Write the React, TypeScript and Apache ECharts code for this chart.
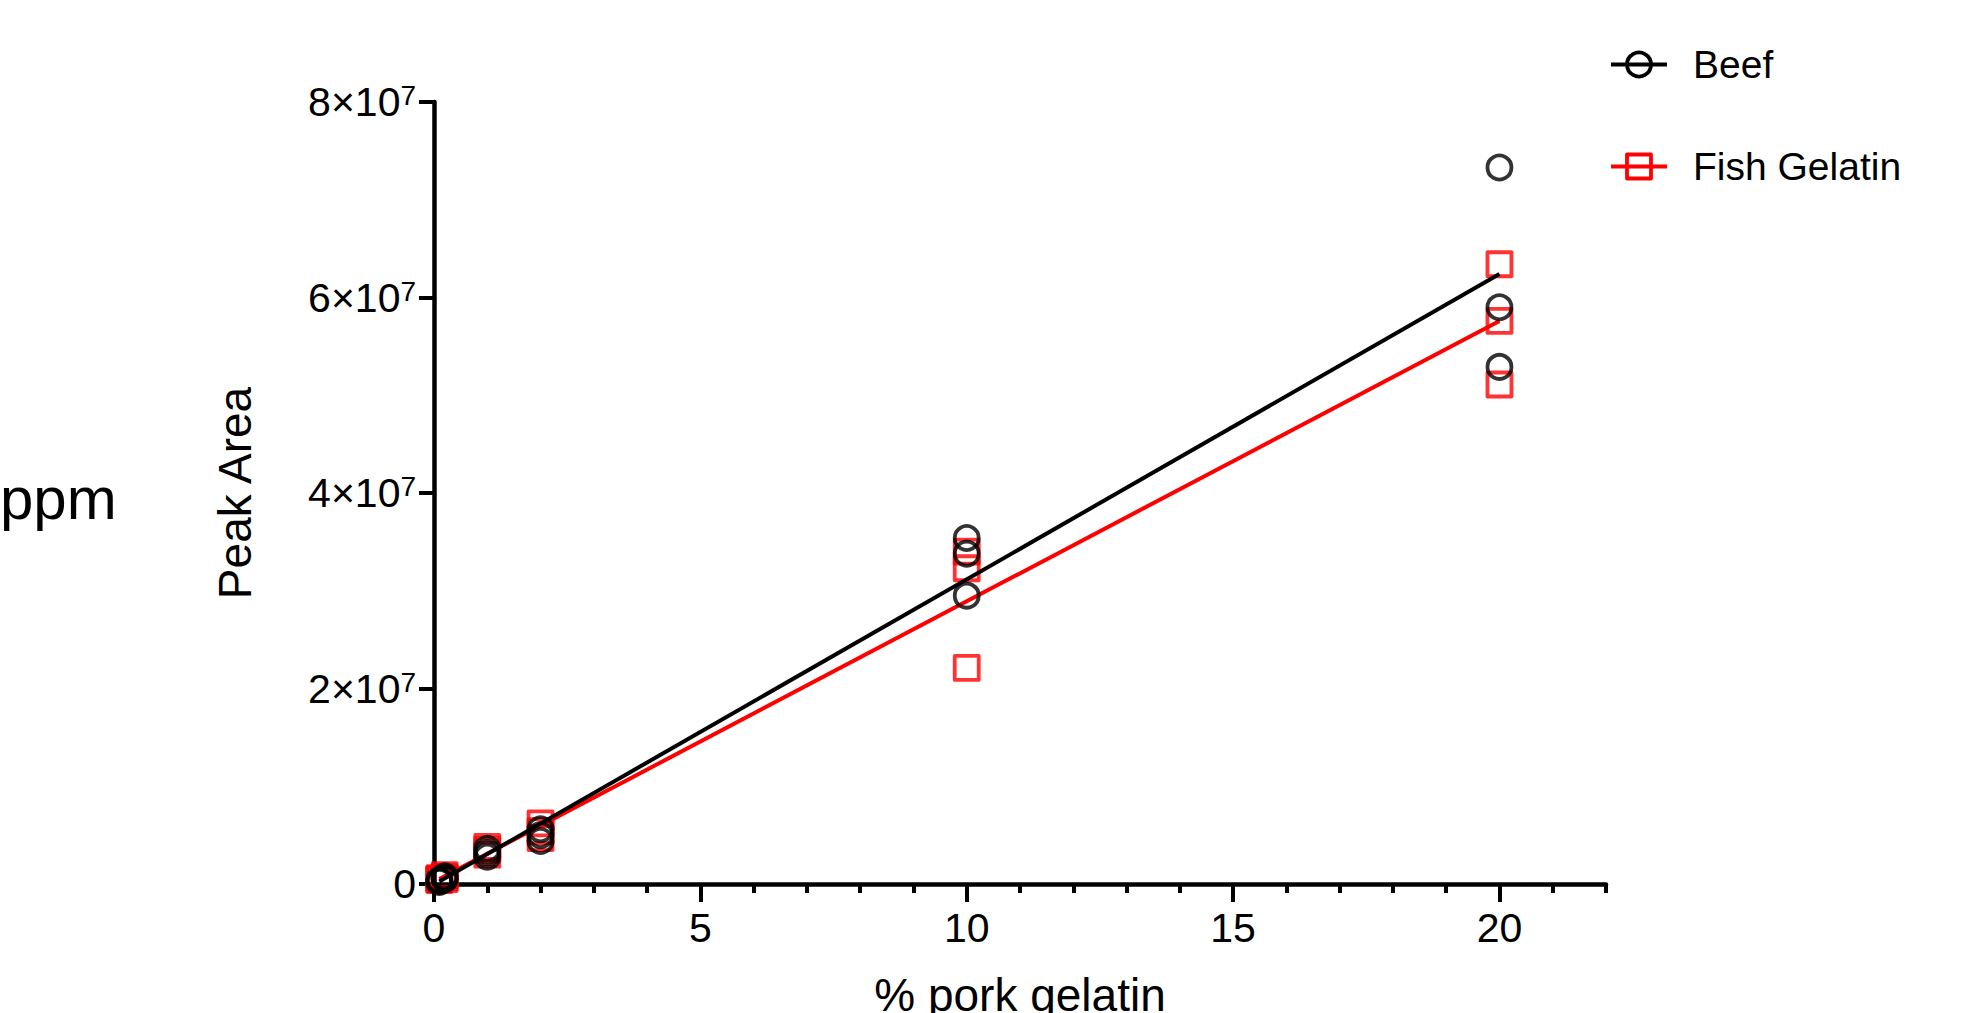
import React, { useEffect, useRef } from "react";
import * as echarts from "echarts";

// ---- data ----
const seriesNames = ["Beef", "Fish Gelatin"];
const doseX = [0.1, 0.1, 0.1, 0.2, 0.2, 0.2, 1, 1, 1, 2, 2, 2, 10, 10, 10, 20, 20, 20];
const beefY = [2e5, 3e5, 4e5, 5e5, 6e5, 8e5, 2.8e6, 3.2e6, 3.6e6, 4.4e6, 5.0e6, 5.6e6, 3.54e7, 3.38e7, 2.95e7, 7.33e7, 5.9e7, 5.29e7];
const fishY = [4e5, 5e5, 6e5, 5e5, 7e5, 9e5, 3.0e6, 3.5e6, 3.8e6, 4.7e6, 5.4e6, 6.2e6, 3.4e7, 3.23e7, 2.21e7, 6.34e7, 5.76e7, 5.11e7];
const fitX = [0.1, 20];
const beefFitY = [2.5e5, 6.24e7];
const fishFitY = [5.2e5, 5.76e7];
const xMajorTicks = [0, 5, 10, 15, 20];
const yTicks = [0, 2e7, 4e7, 6e7, 8e7];
const yTickMantissa = ["0", "2", "4", "6", "8"];
const yTickExponent = "7";

const FONT = "Liberation Sans";
const BLACK = "#000000";
const RED = "#ff0000";

function pairs(xs: number[], ys: number[]) {
  return xs.map((x, i) => [x, ys[i]]);
}

export default function App() {
  const ref = useRef<HTMLDivElement>(null);
  useEffect(() => {
    if (!ref.current) return;
    const chart = echarts.init(ref.current, null, { renderer: "svg" });
    const hollow = (c: string) => ({ color: "rgba(0,0,0,0)", borderColor: c, borderWidth: 3.8, borderJoin: "round" });
    chart.setOption({
      animation: false,
      backgroundColor: "#ffffff",
      grid: { left: 434, right: 358, top: 102, bottom: 129, containLabel: false, outerBoundsMode: "none" },
      legend: {
        orient: "vertical",
        left: 1609,
        top: 45,
        padding: 0,
        itemWidth: 56,
        itemHeight: 30,
        itemGap: 63,
        selectedMode: false,
        textStyle: { fontFamily: FONT, fontSize: 39, color: BLACK, padding: [0, 0, 0, 21] },
        data: [
          { name: seriesNames[0], itemStyle: hollow(BLACK), lineStyle: { color: BLACK, width: 4 } },
          { name: seriesNames[1], itemStyle: hollow(RED), lineStyle: { color: RED, width: 4 } },
        ],
      },
      xAxis: [
        {
          type: "value",
          min: 0,
          max: 22,
          interval: 5,
          name: "% pork gelatin",
          nameLocation: "middle",
          nameGap: 88,
          nameTextStyle: { fontFamily: FONT, fontSize: 46, color: BLACK },
          axisLine: { show: true, onZero: false, lineStyle: { color: BLACK, width: 4.5 } },
          axisTick: { show: true, length: 18, lineStyle: { color: BLACK, width: 4 }, customValues: xMajorTicks },
          axisLabel: {
            show: true,
            margin: 23,
            fontFamily: FONT,
            fontSize: 41,
            color: BLACK,
            customValues: xMajorTicks,
            formatter: (v: number) => (xMajorTicks.indexOf(v) >= 0 ? String(v) : ""),
          },
          splitLine: { show: false },
        },
        {
          type: "value",
          min: 0,
          max: 22,
          interval: 1,
          position: "bottom",
          axisLine: { show: false, onZero: false },
          axisTick: { show: true, length: 9, lineStyle: { color: BLACK, width: 4 } },
          axisLabel: { show: false },
          splitLine: { show: false },
        },
      ],
      yAxis: {
        type: "value",
        min: 0,
        max: 8e7,
        interval: 2e7,
        name: "Peak Area",
        nameLocation: "middle",
        nameRotate: 90,
        nameGap: 176,
        nameTextStyle: { fontFamily: FONT, fontSize: 46, color: BLACK },
        axisLine: { show: true, onZero: false, lineStyle: { color: BLACK, width: 4.5 } },
        axisTick: { show: true, length: 15, lineStyle: { color: BLACK, width: 4 } },
        axisLabel: {
          margin: 18,
          fontFamily: FONT,
          fontSize: 41,
          color: BLACK,
          formatter: (v: number) => {
            const i = yTicks.indexOf(v);
            if (i <= 0) return i === 0 ? "0" : "";
            return `{b|${yTickMantissa[i]}×10}{s|${yTickExponent}}`;
          },
          rich: {
            b: { fontFamily: FONT, fontSize: 41, lineHeight: 41, color: BLACK },
            s: { fontFamily: FONT, fontSize: 28, lineHeight: 16, color: BLACK, verticalAlign: "top" },
          },
        },
        splitLine: { show: false },
      },
      graphic: [
        {
          type: "text",
          left: 0,
          top: 468,
          style: { text: "ppm", fontFamily: FONT, fontSize: 60, fill: BLACK },
        },
      ],
      series: [
        {
          name: seriesNames[0],
          type: "line",
          z: 5,
          data: pairs(fitX, beefFitY),
          symbol: "circle",
          symbolSize: 24,
          showSymbol: false,
          itemStyle: hollow(BLACK),
          lineStyle: { color: BLACK, width: 4 },
          silent: true,
        },
        {
          name: seriesNames[0],
          type: "scatter",
          z: 4,
          clip: false,
          data: pairs(doseX, beefY),
          symbol: "circle",
          symbolSize: 24,
          itemStyle: hollow(BLACK),
        },
        {
          name: seriesNames[1],
          type: "line",
          z: 3,
          data: pairs(fitX, fishFitY),
          symbol: "rect",
          symbolSize: 24,
          showSymbol: false,
          itemStyle: hollow(RED),
          lineStyle: { color: RED, width: 4 },
          silent: true,
        },
        {
          name: seriesNames[1],
          type: "scatter",
          z: 2,
          clip: false,
          data: pairs(doseX, fishY),
          symbol: "rect",
          symbolSize: 24,
          itemStyle: hollow(RED),
        },
      ],
    });
    return () => chart.dispose();
  }, []);
  return (
    <div
      ref={ref}
      style={{ position: "fixed", left: 0, top: 0, width: 1964, height: 1013, background: "#fff" }}
    />
  );
}
